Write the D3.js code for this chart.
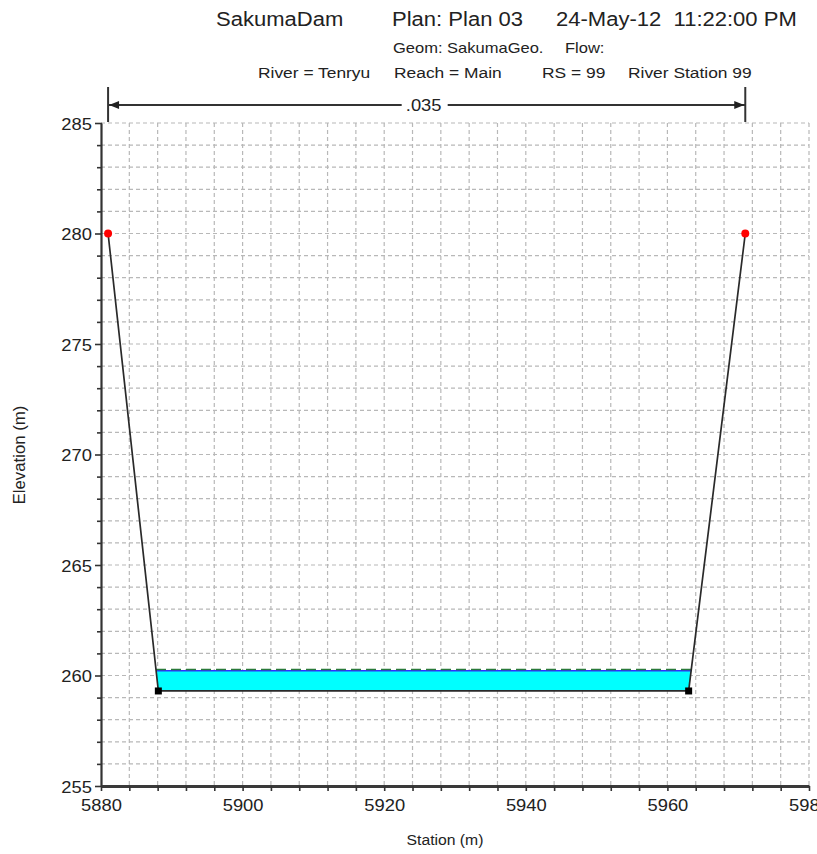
<!DOCTYPE html>
<html>
<head>
<meta charset="utf-8">
<script src="https://cdn.jsdelivr.net/npm/d3@7"></script>
<style>
  html, body { margin: 0; padding: 0; background: #fff; }
  svg { display: block; font-family: "Liberation Sans", Arial, sans-serif; }
</style>
</head>
<body>
<svg id="chart" width="817" height="854"></svg>
<script>
// ---- data ----
const groundStations = [5881, 5888.1, 5963, 5971];
const groundElevations = [280, 259.3, 259.3, 280];
const bankStations = [5881, 5971];
const bankElevations = [280, 280];
const wsElevation = 260.22;   // water surface
const egElevation = 260.27;   // energy grade
const manningN = [".035"];
const manningRange = [5881, 5971];
const xTickLabels = [5880, 5900, 5920, 5940, 5960, 5980];
const yTickLabels = [255, 260, 265, 270, 275, 280, 285];
const titleLine1 = ["SakumaDam", "Plan: Plan 03", "24-May-12  11:22:00 PM"];
const titleLine2 = ["Geom: SakumaGeo.", "Flow:"];
const titleLine3 = ["River = Tenryu", "Reach = Main", "RS = 99", "River Station 99"];

// ---- layout ----
const svg = d3.select("#chart");
const x = d3.scaleLinear().domain([5880, 5980]).range([101, 809]);
const y = d3.scaleLinear().domain([255, 285]).range([786, 123]);
const TXT = "#222";

// stretched text helper
function stext(parent, tx, ty, str, size, sx, anchor, rot) {
  const t = parent.append("text")
    .attr("transform", `translate(${tx},${ty})` + (rot ? ` rotate(${rot})` : "") + ` scale(${sx},1)`)
    .attr("font-size", size).attr("fill", TXT)
    .attr("text-anchor", anchor || "start")
    .attr("xml:space", "preserve").style("white-space", "pre")
    .text(str);
  return t;
}

// grid
const grid = svg.append("g").attr("stroke", "#b8b8b8").attr("stroke-width", 1.2).attr("stroke-dasharray", "4,3");
grid.selectAll("line.v").data(d3.range(5884, 5981, 4)).join("line")
  .attr("x1", d => x(d)).attr("x2", d => x(d)).attr("y1", y(285)).attr("y2", y(255));
grid.selectAll("line.h").data(d3.range(256, 286, 1)).join("line")
  .attr("x1", x(5880)).attr("x2", x(5980)).attr("y1", d => y(d)).attr("y2", d => y(d));

// water fill
function bankX(e, i0, i1) {
  const s0 = groundStations[i0], s1 = groundStations[i1];
  const e0 = groundElevations[i0], e1 = groundElevations[i1];
  return s0 + (e - e0) / (e1 - e0) * (s1 - s0);
}
const wsL = bankX(wsElevation, 1, 0), wsR = bankX(wsElevation, 2, 3);
const waterPts = [[wsL, wsElevation], [groundStations[1], groundElevations[1]], [groundStations[2], groundElevations[2]], [wsR, wsElevation]];
svg.append("path")
  .attr("d", d3.line().x(d => x(d[0])).y(d => y(d[1]))(waterPts) + "Z")
  .attr("fill", "#00ffff");
svg.append("line").attr("x1", x(wsL)).attr("x2", x(wsR)).attr("y1", y(wsElevation)).attr("y2", y(wsElevation))
  .attr("stroke", "#3030ff").attr("stroke-width", 1.5);
const egL = bankX(egElevation, 1, 0), egR = bankX(egElevation, 2, 3);
svg.append("line").attr("x1", x(egL)).attr("x2", x(egR)).attr("y1", y(egElevation)).attr("y2", y(egElevation))
  .attr("stroke", "#2a7a3a").attr("stroke-width", 1.5).attr("stroke-dasharray", "10,5");

// ground line
svg.append("path")
  .attr("d", d3.line().x(d => x(d)).y((d, i) => y(groundElevations[i]))(groundStations))
  .attr("fill", "none").attr("stroke", "#2a2a2a").attr("stroke-width", 1.7);
svg.selectAll("rect.pt").data(groundStations.slice(1, 3)).join("rect")
  .attr("x", d => x(d) - 3.5).attr("y", (d, i) => y(groundElevations[i + 1]) - 3.5)
  .attr("width", 7).attr("height", 7).attr("fill", "#000");
svg.selectAll("circle.bank").data(bankStations).join("circle")
  .attr("cx", d => x(d)).attr("cy", (d, i) => y(bankElevations[i])).attr("r", 4).attr("fill", "#ff0000");

// axes
const yAxis = d3.axisLeft(y).tickValues(d3.range(255, 286, 1)).tickSize(4).tickSizeOuter(0).tickFormat("");
const gy = svg.append("g").attr("transform", `translate(${x(5880)},0)`).call(yAxis);
gy.select(".domain").attr("stroke", "#333").attr("stroke-width", 2.2);
gy.selectAll(".tick line").attr("stroke", "#333").attr("stroke-width", 1.6)
  .attr("x1", 1).attr("x2", d => yTickLabels.includes(d) ? -6 : -4);
gy.selectAll(".tick").filter(d => yTickLabels.includes(d))
  .each(function (d) { stext(d3.select(this), -9, 6, String(d), 17, 1.08, "end"); });

const xAxis = d3.axisBottom(x).tickValues(d3.range(5880, 5981, 4)).tickSize(5).tickSizeOuter(0).tickFormat("");
const gx = svg.append("g").attr("transform", `translate(0,${y(255)})`).call(xAxis);
gx.select(".domain").attr("stroke", "#3a3a3a").attr("stroke-width", 3);
gx.selectAll(".tick line").attr("stroke", "#333").attr("stroke-width", 1.6);
gx.selectAll(".tick").filter(d => xTickLabels.includes(d))
  .each(function (d) { stext(d3.select(this), 0, 25, String(d), 17, 1.08, "middle"); });

// axis titles
stext(svg, 445, 845, "Station (m)", 15, 1.05, "middle");
stext(svg, 25, 455, "Elevation (m)", 16, 1.05, "middle", -90);

// Manning's n indicator
const nY = 105;
const ng = svg.append("g").attr("stroke", "#333");
manningRange.forEach(s => {
  ng.append("line").attr("x1", x(s)).attr("x2", x(s)).attr("y1", 87).attr("y2", 122).attr("stroke-width", 2);
});
ng.append("line").attr("x1", x(manningRange[0])).attr("x2", x(manningRange[1])).attr("y1", nY).attr("y2", nY).attr("stroke-width", 1.8);
const aL = x(manningRange[0]) + 1, aR = x(manningRange[1]) - 1;
svg.append("path").attr("d", `M${aL},${nY} L${aL + 10},${nY - 4} L${aL + 10},${nY + 4} Z`).attr("fill", "#222");
svg.append("path").attr("d", `M${aR},${nY} L${aR - 10},${nY - 4} L${aR - 10},${nY + 4} Z`).attr("fill", "#222");
const nMid = (x(manningRange[0]) + x(manningRange[1])) / 2;
svg.append("rect").attr("x", nMid - 25).attr("y", nY - 9).attr("width", 46).attr("height", 18).attr("fill", "#fff");
stext(svg, nMid - 3, nY + 6, manningN[0], 17, 1.08, "middle");

// titles
const t1x = [216, 392, 556], t2x = [393, 565], t3x = [258, 394, 542, 628];
titleLine1.forEach((s, i) => stext(svg, t1x[i], 26, s, 19.5, 1.13, "start"));
titleLine2.forEach((s, i) => stext(svg, t2x[i], 53, s, 14, 1.18, "start"));
titleLine3.forEach((s, i) => stext(svg, t3x[i], 78, s, 14.5, 1.2, "start"));
</script>
</body>
</html>
